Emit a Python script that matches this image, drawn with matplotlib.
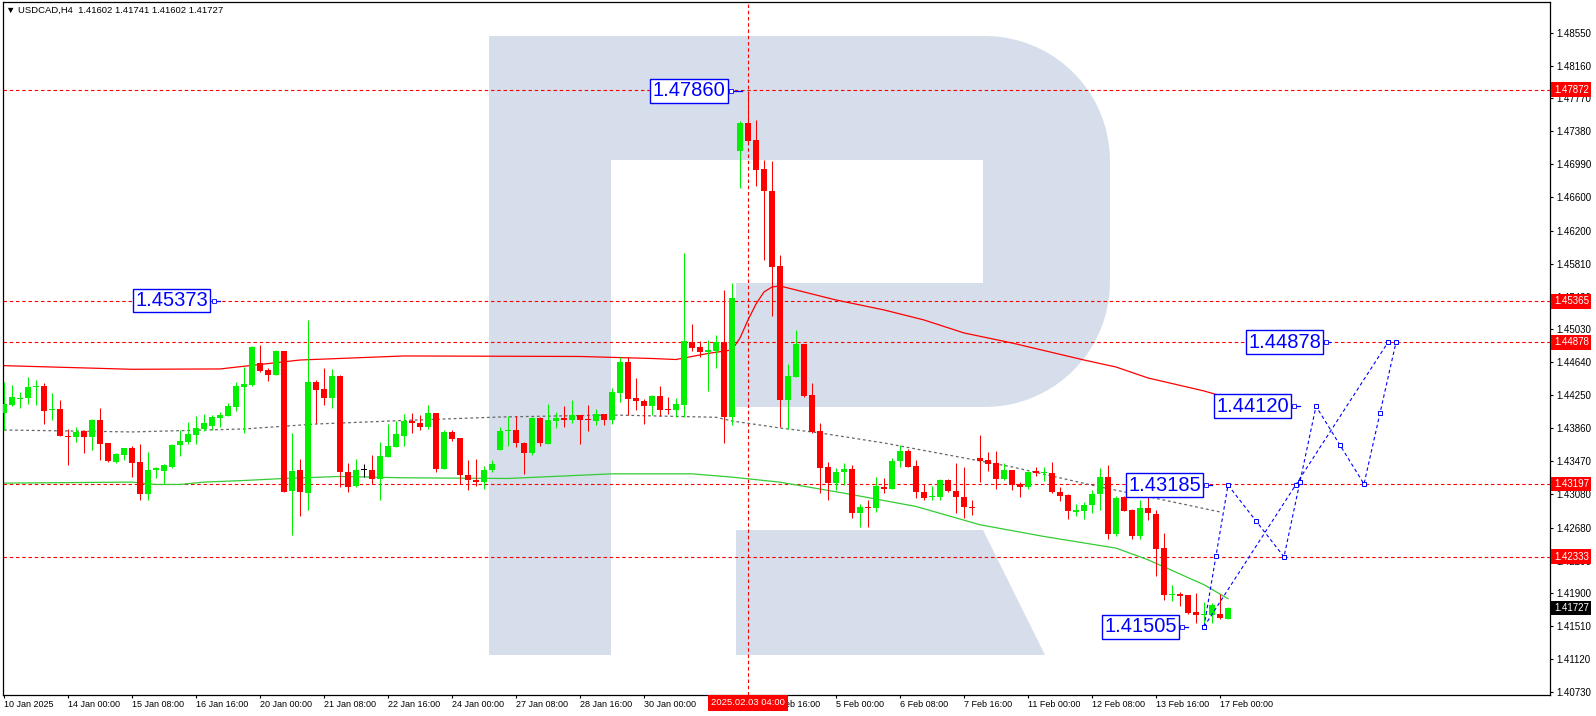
import matplotlib
matplotlib.use('Agg')
import matplotlib.pyplot as plt
import matplotlib.transforms as mtransforms
from matplotlib.patches import Polygon
import numpy as np

plt.rcParams['font.family'] = ['Liberation Sans', 'DejaVu Sans']
plt.rcParams['lines.scale_dashes'] = False

# ---- data (USDCAD H4) ----
header = '\u25bc USDCAD,H4  1.41602 1.41741 1.41602 1.41727'

opens = [1.44037,1.44136,1.44203,1.44215,1.44345,1.44361,1.44073,1.44084,1.43772,1.43749,
         1.43824,1.43749,1.43958,1.43678,1.43464,1.43547,1.43626,1.43460,1.43073,1.43358,
         1.43354,1.43401,1.43658,1.43697,1.43784,1.43855,1.43891,1.43986,1.44009,1.44116,
         1.44353,1.44373,1.44633,1.44551,1.44495,1.44776,1.43113,1.43366,1.43085,1.44404,
         1.44325,1.44223,1.44483,1.43342,1.43168,1.43362,1.43366,1.43255,1.43523,1.43642,
         1.43761,1.43950,1.43922,1.43879,1.44041,1.43381,1.43816,1.43745,1.43306,1.43247,
         1.43227,1.43358,1.43595,1.43828,1.43840,1.43685,1.43567,1.43986,1.43674,1.43950,
         1.43982,1.43962,1.44013,1.43970,1.43950,1.44029,1.43962,1.44282,1.44645,1.44223,
         1.44183,1.44124,1.44242,1.44088,1.44077,1.44136,1.44882,1.44819,1.44768,1.44780,
         1.44882,1.43997,1.47150,1.47481,1.47276,1.46932,1.46672,1.45783,1.44195,1.44472,
         1.44859,1.44254,1.43828,1.43401,1.43215,1.43334,1.43373,1.42852,1.42923,1.42907,
         1.43160,1.43136,1.43468,1.43587,1.43413,1.43105,1.43042,1.43049,1.43247,1.43117,
         1.43042,1.42923,1.43508,1.43480,1.43441,1.43255,1.43362,1.43200,1.43156,1.43346,
         1.43326,1.43326,1.43105,1.43069,1.42868,1.42872,1.42947,1.43077,1.43279,1.42607,
         1.43042,1.42884,1.42576,1.42911,1.42844,1.42437,1.41876,1.41888,1.41876,1.41675,
         1.41643,1.41639,1.41659,1.41602]
highs = [1.44412,1.44373,1.44294,1.44468,1.44436,1.44396,1.44274,1.44195,1.43847,1.43879,
         1.43840,1.43970,1.44104,1.43685,1.43567,1.43630,1.43650,1.43666,1.43579,1.43397,
         1.43429,1.43666,1.43832,1.43930,1.44005,1.44025,1.44021,1.44049,1.44163,1.44404,
         1.44582,1.44839,1.44847,1.44578,1.44791,1.44780,1.43800,1.43492,1.45143,1.44432,
         1.44570,1.44558,1.44491,1.43441,1.43496,1.43433,1.43543,1.43693,1.43911,1.43950,
         1.44029,1.44045,1.44017,1.44136,1.44041,1.43832,1.43832,1.43745,1.43484,1.43496,
         1.43413,1.43484,1.43875,1.44005,1.44005,1.43697,1.43997,1.43997,1.44148,1.44053,
         1.44124,1.44195,1.44017,1.44136,1.44088,1.44029,1.44337,1.44705,1.44705,1.44456,
         1.44207,1.44254,1.44361,1.44231,1.44219,1.45941,1.45096,1.44894,1.44902,1.44965,
         1.45499,1.45585,1.47505,1.47860,1.47513,1.47039,1.47031,1.45913,1.44622,1.45025,
         1.44859,1.44400,1.43919,1.43460,1.43389,1.43444,1.43425,1.42963,1.43010,1.43279,
         1.43267,1.43508,1.43662,1.43611,1.43480,1.43200,1.43176,1.43259,1.43259,1.43452,
         1.43405,1.43010,1.43780,1.43579,1.43587,1.43444,1.43362,1.43227,1.43354,1.43397,
         1.43397,1.43460,1.43164,1.43081,1.42963,1.42979,1.43129,1.43385,1.43425,1.43050,
         1.43050,1.42899,1.43010,1.43176,1.42892,1.42615,1.41999,1.41920,1.41884,1.41904,
         1.41793,1.41785,1.41892,1.41741]
lows = [1.43840,1.44128,1.44104,1.44148,1.44136,1.43911,1.43958,1.43772,1.43417,1.43697,
        1.43571,1.43603,1.43484,1.43464,1.43441,1.43484,1.43275,1.43010,1.43010,1.43263,
        1.43200,1.43393,1.43524,1.43670,1.43666,1.43828,1.43840,1.43879,1.44005,1.44065,
        1.43808,1.44365,1.44531,1.44424,1.44491,1.43097,1.42595,1.42813,1.42884,1.43919,
        1.44136,1.44104,1.43160,1.43105,1.43160,1.43275,1.43200,1.43010,1.43512,1.43642,
        1.43654,1.43808,1.43832,1.43851,1.43334,1.43381,1.43713,1.43200,1.43129,1.43176,
        1.43144,1.43334,1.43595,1.43654,1.43642,1.43318,1.43547,1.43654,1.43666,1.43867,
        1.43875,1.43919,1.43674,1.43828,1.43899,1.43899,1.43911,1.44171,1.44013,1.44077,
        1.43911,1.44013,1.44005,1.44029,1.43994,1.43994,1.44780,1.44709,1.44306,1.44578,
        1.43689,1.43899,1.46711,1.47256,1.46731,1.45854,1.45190,1.43879,1.43847,1.44472,
        1.44235,1.43808,1.43089,1.43002,1.43121,1.43188,1.42793,1.42686,1.42686,1.42868,
        1.43089,1.43136,1.43397,1.43405,1.43026,1.43002,1.43002,1.43010,1.43105,1.42852,
        1.42789,1.42832,1.43219,1.43346,1.43144,1.43247,1.43121,1.43038,1.43144,1.43287,
        1.43235,1.43089,1.42990,1.42781,1.42813,1.42785,1.42852,1.42892,1.42544,1.42576,
        1.42872,1.42544,1.42544,1.42773,1.42101,1.41825,1.41805,1.41754,1.41659,1.41549,
        1.41505,1.41549,1.41596,1.41602]
closes = [1.44148,1.44227,1.44219,1.44345,1.44361,1.44069,1.44088,1.43772,1.43753,1.43820,
          1.43749,1.43958,1.43666,1.43472,1.43555,1.43626,1.43452,1.43073,1.43366,1.43389,
          1.43417,1.43658,1.43705,1.43792,1.43863,1.43919,1.43994,1.44017,1.44124,1.44361,
          1.44381,1.44823,1.44543,1.44495,1.44780,1.43097,1.43350,1.43097,1.44408,1.44313,
          1.44223,1.44475,1.43334,1.43156,1.43366,1.43362,1.43255,1.43531,1.43654,1.43792,
          1.43950,1.43915,1.43879,1.44041,1.43381,1.43816,1.43737,1.43306,1.43239,1.43227,
          1.43366,1.43437,1.43828,1.43840,1.43678,1.43571,1.43986,1.43685,1.43958,1.43982,
          1.43962,1.44013,1.43962,1.43962,1.44025,1.43962,1.44290,1.44645,1.44211,1.44187,
          1.44124,1.44242,1.44077,1.44081,1.44148,1.44890,1.44815,1.44768,1.44788,1.44882,
          1.43997,1.45404,1.47481,1.47264,1.46921,1.46676,1.45775,1.44195,1.44479,1.44859,
          1.44242,1.43820,1.43393,1.43215,1.43342,1.43373,1.42852,1.42923,1.42907,1.43176,
          1.43136,1.43468,1.43587,1.43405,1.43101,1.43034,1.43057,1.43247,1.43109,1.43038,
          1.42919,1.42907,1.43476,1.43437,1.43255,1.43362,1.43184,1.43156,1.43334,1.43326,
          1.43338,1.43101,1.43061,1.42876,1.42884,1.42947,1.43081,1.43279,1.42607,1.43034,
          1.42880,1.42576,1.42911,1.42852,1.42425,1.41884,1.41892,1.41872,1.41667,1.41647,
          1.41655,1.41766,1.41608,1.41727]

# moving averages, sampled along the drawn lines (bar index, price)
red_ma_bars = [0, 16, 27, 37, 50, 72, 81, 84, 88, 91, 92, 93, 94, 95, 96, 97, 104, 110,
               115, 120, 126, 135, 139, 143, 150, 153]
red_ma_vals = [1.44601, 1.44558, 1.44562, 1.44668, 1.44716, 1.44710, 1.44686, 1.44674,
               1.44746, 1.44787, 1.44929, 1.45143, 1.45332, 1.45475, 1.45534, 1.45546,
               1.45380, 1.45262, 1.45143, 1.44989, 1.44870, 1.44668, 1.44585, 1.44455,
               1.44301, 1.44218]
grey_ma_bars = [0, 16, 30, 39, 50, 62, 76, 89, 91, 97, 102, 110, 118, 126, 137, 143, 152]
grey_ma_vals = [1.43838, 1.43815, 1.43850, 1.43909, 1.43951, 1.43992, 1.44016, 1.43989,
                1.43945, 1.43862, 1.43803, 1.43684, 1.43542, 1.43400, 1.43162, 1.43047,
                1.42866]
green_ma_bars = [0, 16, 19, 22, 25, 30, 35, 42, 50, 63, 76, 86, 91, 97, 105, 114, 122,
                 130, 139, 143, 150, 153]
green_ma_vals = [1.43208, 1.43220, 1.43192, 1.43192, 1.43220, 1.43239, 1.43263, 1.43287,
                 1.43271, 1.43263, 1.43318, 1.43318, 1.43279, 1.43219, 1.43089, 1.42931,
                 1.42714, 1.42575, 1.42437, 1.42299, 1.42003, 1.41837]

# horizontal levels and price tags
level_prices = [1.47872, 1.45365, 1.44878, 1.43197, 1.42333]
last_price = 1.41727
cursor_bar = 93
cursor_label = '2025.02.03 04:00'

# forecast paths
path_a_bars = [150, 153, 160, 164, 170, 174]
path_a_vals = [1.41505, 1.43185, 1.42333, 1.44120, 1.43197, 1.44878]
path_b_bars = [150, 173]
path_b_vals = [1.41505, 1.44878]

# boxed price labels: text, left bar, price, bar where the pointer ends
box_labels = [('1.47860', 81.1, 1.47860, 92.3),
              ('1.45373', 16.4, 1.45373, 27.0),
              ('1.44878', 155.5, 1.44878, 165.8),
              ('1.44120', 151.5, 1.44120, 162.0),
              ('1.43185', 140.5, 1.43185, 151.0),
              ('1.41505', 137.5, 1.41505, 148.0)]

ytick_vals = [1.48550, 1.48160, 1.47770, 1.47380, 1.46990, 1.46600, 1.46200, 1.45810,
              1.45420, 1.45030, 1.44640, 1.44250, 1.43860, 1.43470, 1.43080, 1.42680,
              1.42290, 1.41900, 1.41510, 1.41120, 1.40730]
xtick_labels = ['10 Jan 2025', '14 Jan 00:00', '15 Jan 08:00', '16 Jan 16:00',
                '20 Jan 00:00', '21 Jan 08:00', '22 Jan 16:00', '24 Jan 00:00',
                '27 Jan 08:00', '28 Jan 16:00', '30 Jan 00:00', '31 Jan 08:00',
                '3 Feb 16:00', '5 Feb 00:00', '6 Feb 08:00', '7 Feb 16:00',
                '11 Feb 00:00', '12 Feb 08:00', '13 Feb 16:00', '17 Feb 00:00']

GREEN = '#00F000'
RED = '#FF0000'
BLUE = '#0000FF'
WM = '#D5DEEA'

W, H = 1596, 716
AX_L, AX_R, AX_T, AX_B = 2.5, 1550, 2, 695

fig = plt.figure(figsize=(W / 100, H / 100), dpi=100)
ax = fig.add_axes([AX_L / W, 1 - AX_B / H, (AX_R - AX_L) / W, (AX_B - AX_T) / H])
ax.set_xlim((AX_L - 4) / 8, (AX_R - 4) / 8)
ax.set_ylim(1.40695, 1.48914)


def px(points):
    # watermark outline given in screen pixels -> axes fraction
    return [((x - AX_L) / (AX_R - AX_L), (AX_B - y) / (AX_B - AX_T)) for x, y in points]


# watermark "R"
t1 = np.linspace(np.pi / 2, 0, 20)
t2 = np.linspace(0, -np.pi / 2, 20)
bowl = [(489, 36)] + [(985 + 125 * np.cos(t), 161 - 125 * np.sin(t)) for t in t1] \
       + [(985 + 125 * np.cos(t), 282 - 125 * np.sin(t)) for t in t2] + [(489, 407)]
for shape, col, z in [(bowl, WM, 0.2),
                      ([(611, 160), (983, 160), (983, 283), (611, 283)], 'white', 0.3),
                      ([(611, 283), (736, 283), (736, 407), (611, 407)], 'white', 0.3),
                      ([(489, 36), (611, 36), (611, 655), (489, 655)], WM, 0.4),
                      ([(736, 530), (983, 530), (1045, 655), (736, 655)], WM, 0.4)]:
    ax.add_patch(Polygon(px(shape), closed=True, fc=col, ec='none',
                         transform=ax.transAxes, zorder=z))

# horizontal levels and cursor line
for lv in level_prices:
    ax.axhline(lv, color=RED, lw=0.8, ls=(0, (2.5, 2)), zorder=1)
ax.axvline(cursor_bar, color=RED, lw=0.8, ls=(0, (2.5, 2)), zorder=1)

# moving averages
ax.plot(red_ma_bars, red_ma_vals, color=RED, lw=0.9, zorder=2)
ax.plot(grey_ma_bars, grey_ma_vals, color='#666666', lw=0.9, ls=(0, (2, 2)), zorder=2)
ax.plot(green_ma_bars, green_ma_vals, color='#33CC33', lw=0.9, zorder=2)

# candles
o, h, l, c = map(np.array, (opens, highs, lows, closes))
x = np.arange(len(o))
colors = np.where(c > o, GREEN, np.where(c < o, RED, 'black'))
ax.vlines(x, l, h, colors=colors, lw=0.75, zorder=3)
ax.bar(x, np.maximum(np.abs(c - o), 0.0001), bottom=np.minimum(o, c), width=0.66,
       color=colors, lw=0, zorder=4)

# forecast zigzags
for bx, by in [(path_a_bars, path_a_vals), (path_b_bars, path_b_vals)]:
    ax.plot(bx, by, color=BLUE, lw=0.8, ls=(0, (2.5, 2)), zorder=5)
    mx = (np.array(bx[:-1]) + np.array(bx[1:])) / 2
    my = (np.array(by[:-1]) + np.array(by[1:])) / 2
    ax.plot(list(bx) + list(mx), list(by) + list(my), ls='none', marker='s', ms=3,
            mfc='white', mec=BLUE, mew=0.7, zorder=5)

# boxed labels
for txt, bx0, price, bend in box_labels:
    ax.text(bx0, price, txt, ha='left', va='center', fontsize=14.5, color=BLUE, zorder=6,
            bbox=dict(boxstyle='square,pad=0.12', fc='white', ec=BLUE, lw=1))
    ax.plot([bx0 + 9.6, bend], [price, price], color=BLUE, lw=0.9, zorder=6)
    ax.plot([bx0 + 9.8], [price], ls='none', marker='s', ms=2.5, mfc='white',
            mec=BLUE, mew=0.6, zorder=6)

# axes styling
for sp in ax.spines.values():
    sp.set_color('black')
    sp.set_linewidth(0.9)
ax.yaxis.tick_right()
ax.set_yticks(ytick_vals)
ax.set_yticklabels(['%.5f' % v for v in ytick_vals])
ax.tick_params(axis='y', direction='out', length=2.2, width=0.8, pad=2.5, labelsize=7)
ax.set_xticks(np.arange(len(xtick_labels)) * 8)
ax.set_xticklabels(xtick_labels)
for lab in ax.get_xticklabels():
    lab.set_horizontalalignment('left')
ax.tick_params(axis='x', direction='out', length=2.2, width=0.8, pad=1.5, labelsize=6.5)

# price tags on the right scale
ytrans = mtransforms.blended_transform_factory(ax.transAxes, ax.transData)
for lv in level_prices:
    ax.text(1.0025, lv, '%.5f' % lv, transform=ytrans, ha='left', va='center', fontsize=7,
            color='white', zorder=10,
            bbox=dict(boxstyle='square,pad=0.25', fc=RED, ec='none'))
ax.text(1.0025, last_price, '%.5f' % last_price, transform=ytrans, ha='left', va='center',
        fontsize=7, color='white', zorder=10,
        bbox=dict(boxstyle='square,pad=0.25', fc='black', ec='none'))

# cursor time tag on the time scale
xtrans = mtransforms.blended_transform_factory(ax.transData, ax.transAxes)
ax.text(cursor_bar, -0.0115, cursor_label, transform=xtrans, ha='center', va='center',
        fontsize=6.8, color='white', zorder=10,
        bbox=dict(boxstyle='square,pad=0.35', fc=RED, ec='none'))

fig.text(6 / W, 1 - 10 / H, header, fontsize=6.8, va='center', ha='left')

fig.savefig('out.png', dpi=100)
